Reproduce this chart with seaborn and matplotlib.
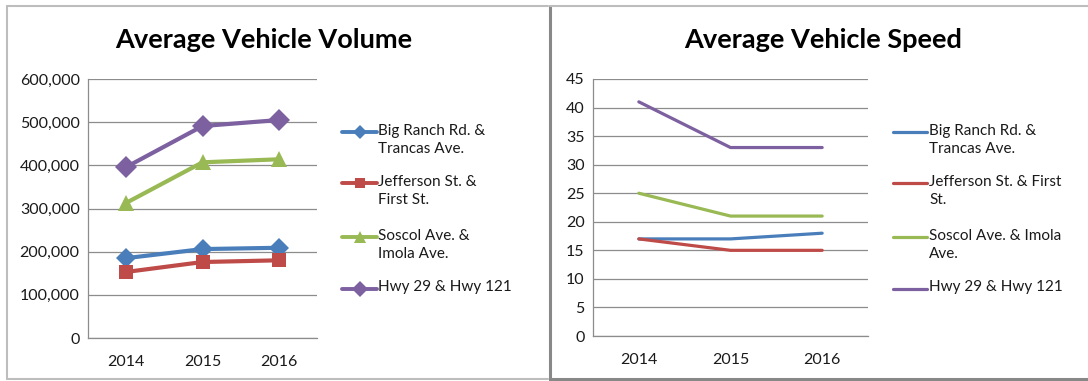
import matplotlib
matplotlib.use("Agg")
import matplotlib.pyplot as plt
from matplotlib.lines import Line2D
import seaborn as sns
import pandas as pd

years = [2014, 2015, 2016]
series = ["Big Ranch Rd. & Trancas Ave.", "Jefferson St. & First St.",
          "Soscol Ave. & Imola Ave.", "Hwy 29 & Hwy 121"]
volume_big_ranch = [185000, 206000, 209000]
volume_jefferson = [153000, 176000, 180000]
volume_soscol = [313000, 407000, 414000]
volume_hwy = [396000, 491000, 505000]
speed_big_ranch = [17, 17, 18]
speed_jefferson = [17, 15, 15]
speed_soscol = [25, 21, 21]
speed_hwy = [41, 33, 33]
vol_ticks = [0, 100000, 200000, 300000, 400000, 500000, 600000]
speed_ticks = [0, 5, 10, 15, 20, 25, 30, 35, 40, 45]
legend_vol = ["Big Ranch Rd. &\nTrancas Ave.", "Jefferson St. &\nFirst St.",
              "Soscol Ave. &\nImola Ave.", "Hwy 29 & Hwy 121"]
legend_speed = ["Big Ranch Rd. &\nTrancas Ave.", "Jefferson St. & First\nSt.",
                "Soscol Ave. & Imola\nAve.", "Hwy 29 & Hwy 121"]

colors = ["#4A7EBB", "#BE4B48", "#98B954", "#7D60A0"]
markers = ["D", "s", "^", "D"]
msizes = [10, 10.5, 12, 11]

sns.set_theme(style="white")
plt.rcParams['font.family'] = ['Lato', 'DejaVu Sans']

vol_df = pd.DataFrame({"year": years * 4,
                       "value": volume_big_ranch + volume_jefferson + volume_soscol + volume_hwy,
                       "series": sum([[s] * 3 for s in series], [])})
spd_df = pd.DataFrame({"year": years * 4,
                       "value": speed_big_ranch + speed_jefferson + speed_soscol + speed_hwy,
                       "series": sum([[s] * 3 for s in series], [])})

fig = plt.figure(figsize=(10.88, 3.81), dpi=100)
W, H = 1088, 381

def fx(px):
    return px / W

def fy(py):
    return 1 - py / H

ax1 = fig.add_axes([fx(88), fy(338), fx(317 - 88), (338 - 79) / H])
ax2 = fig.add_axes([fx(593), fy(336), fx(868 - 593), (336 - 79) / H])

for i, s in enumerate(series):
    d = vol_df[vol_df.series == s]
    sns.lineplot(data=d, x="year", y="value", ax=ax1, color=colors[i], lw=3.0,
                 marker=markers[i], markersize=msizes[i], markeredgewidth=0, zorder=3)
    d2 = spd_df[spd_df.series == s]
    sns.lineplot(data=d2, x="year", y="value", ax=ax2, color=colors[i], lw=2.3, zorder=3)

grid_c = "#8c8c8c"
for ax, ticks, fmt in [(ax1, vol_ticks, lambda v: f"{v:,}"), (ax2, speed_ticks, lambda v: str(v))]:
    ax.set_xlim(2013.5, 2016.5)
    ax.set_ylim(ticks[0], ticks[-1])
    ax.set_xticks(years)
    ax.set_xticklabels([str(y) for y in years])
    ax.set_yticks(ticks)
    ax.set_yticklabels([fmt(v) for v in ticks])
    ax.set_xlabel("")
    ax.set_ylabel("")
    ax.grid(axis="y", color=grid_c, lw=0.9)
    ax.set_axisbelow(True)
    for side in ["top", "right"]:
        ax.spines[side].set_visible(False)
    for side in ["left", "bottom"]:
        ax.spines[side].set_color(grid_c)
        ax.spines[side].set_linewidth(0.9)
    ax.tick_params(axis="both", labelsize=11.5, colors="#1a1a1a", length=0)
    ax.tick_params(axis="y", pad=6)
    ax.tick_params(axis="x", pad=12)
    if ax.get_legend():
        ax.get_legend().remove()

fig.text(fx(264), fy(40), "Average Vehicle Volume", ha="center", va="center",
         fontsize=19.5, fontweight="bold", color="black")
fig.text(fx(823), fy(40), "Average Vehicle Speed", ha="center", va="center",
         fontsize=19.5, fontweight="bold", color="black")

# legends
entry_y = [132, 183, 237, 289]
for i in range(4):
    y = entry_y[i]
    fig.add_artist(Line2D([fx(342), fx(377)], [fy(y), fy(y)], transform=fig.transFigure,
                          color=colors[i], lw=2.8))
    fig.add_artist(Line2D([fx(359.5)], [fy(y)], transform=fig.transFigure, color=colors[i],
                          marker=markers[i], markersize=msizes[i] * 0.7, markeredgewidth=0, lw=0))
    fig.text(fx(378), fy(y - 8.5), legend_vol[i], ha="left", va="top", fontsize=11,
             color="#1a1a1a", linespacing=1.4)
    fig.add_artist(Line2D([fx(893), fx(927)], [fy(y), fy(y)], transform=fig.transFigure,
                          color=colors[i], lw=2.3))
    fig.text(fx(929), fy(y - 8.5), legend_speed[i], ha="left", va="top", fontsize=11,
             color="#1a1a1a", linespacing=1.4)

# panel frames
fig.add_artist(Line2D([fx(7), fx(7)], [fy(6), fy(379)], transform=fig.transFigure, color="#bdbdbd", lw=1.5))
fig.add_artist(Line2D([fx(7), fx(548)], [fy(6), fy(6)], transform=fig.transFigure, color="#bdbdbd", lw=1.5))
fig.add_artist(Line2D([fx(7), fx(548)], [fy(379), fy(379)], transform=fig.transFigure, color="#bdbdbd", lw=1.5))
fig.add_artist(Line2D([fx(550), fx(550)], [fy(6), fy(380)], transform=fig.transFigure, color="#888888", lw=2.2))
fig.add_artist(Line2D([fx(550), fx(1088)], [fy(6), fy(6)], transform=fig.transFigure, color="#bdbdbd", lw=1.5))
fig.add_artist(Line2D([fx(550), fx(1088)], [fy(379), fy(379)], transform=fig.transFigure, color="#888888", lw=2.2))

fig.savefig("out.png", dpi=100)
